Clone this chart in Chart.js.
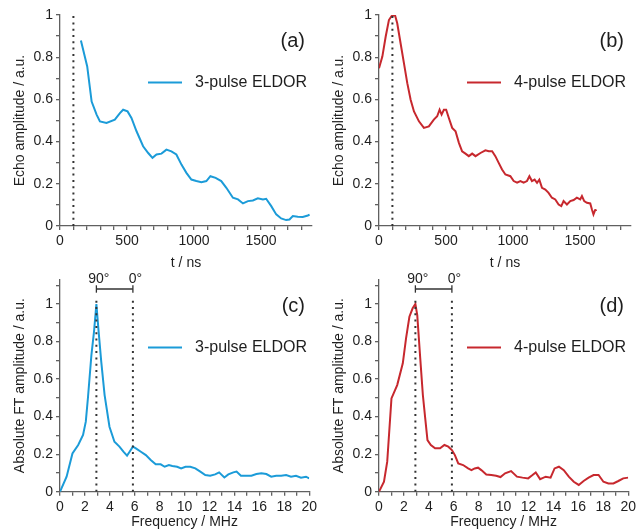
<!DOCTYPE html>
<html><head><meta charset="utf-8">
<script src="https://cdn.jsdelivr.net/npm/chart.js@4/dist/chart.umd.min.js"></script>
<style>
html,body{margin:0;padding:0;background:#fff;}
#wrap{position:relative;width:639px;height:531px;overflow:hidden;background:#fff;}
canvas{position:absolute;}
</style></head><body>
<div id="wrap">
<canvas id="ca" width="320" height="280" style="left:0;top:0"></canvas>
<canvas id="cb" width="320" height="280" style="left:319px;top:0"></canvas>
<canvas id="cc" width="320" height="266" style="left:0;top:265px"></canvas>
<canvas id="cd" width="320" height="266" style="left:319px;top:265px"></canvas>
</div>
<script>
// ---- data ----
const timeA = [156,203,236,273,298,347,409,447,471,504,533,571,620,658,690,720,757,794,831,868,906,943,980,1017,1055,1092,1122,1161,1203,1241,1290,1328,1365,1402,1439,1476,1514,1538,1576,1613,1650,1687,1712,1737,1774,1811,1849,1862];
const echoA = [0.879,0.756,0.590,0.528,0.496,0.488,0.504,0.535,0.551,0.543,0.512,0.449,0.378,0.346,0.323,0.339,0.343,0.362,0.354,0.339,0.291,0.252,0.220,0.213,0.208,0.213,0.236,0.228,0.213,0.181,0.134,0.126,0.107,0.118,0.121,0.131,0.126,0.129,0.094,0.055,0.036,0.028,0.031,0.047,0.044,0.043,0.050,0.054];

const timeB = [0,25,50,74,94,119,136,161,186,211,236,261,298,335,372,409,434,452,467,484,501,521,546,571,596,620,645,670,695,720,757,794,819,844,868,893,918,943,980,1005,1030,1055,1079,1104,1122,1141,1161,1179,1196,1216,1241,1265,1290,1315,1340,1360,1377,1402,1427,1452,1476,1501,1514,1531,1551,1576,1588,1600,1613,1618];
const echoB = [0.748,0.803,0.898,0.976,0.995,1.000,0.961,0.866,0.772,0.677,0.598,0.543,0.496,0.465,0.472,0.504,0.520,0.551,0.528,0.551,0.551,0.512,0.465,0.449,0.394,0.354,0.343,0.331,0.343,0.331,0.346,0.359,0.354,0.354,0.331,0.299,0.268,0.244,0.236,0.213,0.205,0.213,0.205,0.213,0.236,0.213,0.220,0.205,0.220,0.181,0.173,0.157,0.134,0.126,0.102,0.094,0.118,0.102,0.118,0.123,0.134,0.126,0.142,0.118,0.110,0.107,0.079,0.055,0.076,0.078];

const freqC = [0,0.53,1.0,1.46,1.85,2.07,2.25,2.52,2.73,2.92,3.1,3.31,3.58,3.97,4.37,4.77,5.09,5.38,5.56,5.85,6.09,6.49,6.89,7.28,7.68,8.08,8.40,8.74,9.01,9.40,9.72,10.07,10.46,10.86,11.26,11.66,12.05,12.45,12.77,13.19,13.51,13.91,14.17,14.52,14.97,15.36,15.76,16.16,16.56,16.95,17.35,17.75,18.15,18.54,18.94,19.34,19.74,20];
const ftC = [0,0.080,0.204,0.249,0.302,0.373,0.506,0.728,0.853,1.000,0.853,0.693,0.515,0.346,0.266,0.240,0.213,0.192,0.210,0.240,0.231,0.213,0.195,0.169,0.146,0.146,0.133,0.142,0.137,0.133,0.124,0.133,0.133,0.124,0.107,0.089,0.085,0.092,0.103,0.076,0.092,0.103,0.107,0.085,0.085,0.085,0.094,0.098,0.094,0.080,0.085,0.085,0.089,0.080,0.085,0.075,0.080,0.071];

const freqD = [0,0.40,0.66,1.0,1.46,1.91,2.17,2.44,2.70,2.92,3.07,3.31,3.52,3.71,3.89,4.16,4.50,4.90,5.25,5.56,5.85,6.09,6.36,6.75,7.15,7.42,7.68,7.95,8.21,8.61,9.01,9.40,9.75,10.12,10.60,11.07,11.52,11.97,12.32,12.58,12.93,13.38,13.77,14.09,14.44,14.83,15.23,15.63,16.03,16.42,16.82,17.22,17.62,18.01,18.41,18.81,19.21,19.60,20.0];
const ftD = [0,0.053,0.160,0.497,0.568,0.684,0.817,0.932,0.977,1.000,0.941,0.710,0.515,0.391,0.275,0.249,0.231,0.231,0.249,0.240,0.222,0.195,0.151,0.142,0.124,0.115,0.124,0.128,0.115,0.092,0.089,0.085,0.078,0.098,0.110,0.080,0.075,0.071,0.089,0.103,0.067,0.080,0.075,0.124,0.133,0.115,0.080,0.053,0.036,0.057,0.075,0.089,0.089,0.053,0.044,0.044,0.057,0.071,0.075];

const timeTickLabels = [0, 500, 1000, 1500];
const ampTickLabels = [0, 0.2, 0.4, 0.6, 0.8, 1];
const freqTickLabels = [0, 2, 4, 6, 8, 10, 12, 14, 16, 18, 20];
const pumpTime = 100;          // ns, dotted marker in (a),(b)
const freq90 = 2.92;           // MHz, 90° marker
const freq0 = 5.85;            // MHz, 0° marker
const bracketLevel = 1.08;

// ---- style ----
const FONT = "'Liberation Sans', Arial, Helvetica, sans-serif";
const AXIS = '#606060';
const TXT = '#1e1e1e';
const BLUE = '#1b9bd8';
const RED = '#c7282e';

function labelFrom(list){
  return v => { const m = list.find(l => Math.abs(l - v) < 1e-6); return m === undefined ? '' : String(m); };
}

const annot = {
  id: 'annot',
  afterDraw(chart) {
    const o = chart.options.plugins.annot;
    const {ctx, scales:{x, y}} = chart;
    ctx.save();
    ctx.fillStyle = TXT;
    ctx.font = `20px ${FONT}`;
    ctx.textAlign = 'right'; ctx.textBaseline = 'alphabetic';
    ctx.fillText(o.label, 305, 46.5);
    // legend
    ctx.strokeStyle = o.color; ctx.lineWidth = 2;
    ctx.beginPath(); ctx.moveTo(148, 82.5); ctx.lineTo(182, 82.5); ctx.stroke();
    ctx.font = `16px ${FONT}`;
    ctx.textAlign = 'left'; ctx.textBaseline = 'middle';
    ctx.fillText(o.legend, 195, 83);
    if (o.bracket) {
      ctx.strokeStyle = '#333'; ctx.lineWidth = 1.3;
      const by = y.getPixelForValue(bracketLevel);
      [freq90, freq0].forEach(f => {
        const px = x.getPixelForValue(f);
        ctx.beginPath(); ctx.moveTo(px, by - 3.7); ctx.lineTo(px, by + 3.7); ctx.stroke();
      });
      ctx.font = `14px ${FONT}`;
      ctx.textAlign = 'center'; ctx.textBaseline = 'alphabetic';
      ctx.fillText('90°', x.getPixelForValue(freq90) + 2.5, 17.5);
      ctx.fillText('0°', x.getPixelForValue(freq0) + 2.5, 17.5);
    }
    ctx.restore();
  }
};

function build(id, o) {
  const datasets = [
    {data: o.xs.map((v, i) => ({x: v, y: o.ys[i]})), borderColor: o.color, borderWidth: 2,
     pointRadius: 0, tension: 0, fill: false, order: 2}
  ];
  o.markers.forEach(m => datasets.push({data: [{x: m, y: 0}, {x: m, y: o.markerTop}],
    borderColor: '#333', borderWidth: 2, borderDash: [2, 4.3], pointRadius: 0, order: 1}));
  if (o.bracket) datasets.push({data: [{x: freq90, y: bracketLevel}, {x: freq0, y: bracketLevel}],
    borderColor: '#333', borderWidth: 1.3, pointRadius: 0, order: 1});
  const tickFont = {family: FONT, size: 14};
  new Chart(document.getElementById(id), {
    type: 'line',
    data: {datasets},
    options: {
      responsive: false, animation: false, devicePixelRatio: 1,
      layout: {padding: {left: 0, right: 8, top: o.padTop, bottom: 0}},
      plugins: {legend: {display: false}, tooltip: {enabled: false},
        annot: {label: o.label, legend: o.legend, color: o.color, bracket: o.bracket}},
      scales: {
        x: {type: 'linear', min: 0, max: o.xMax,
          afterFit: s => { s.height = o.xHeight; },
          border: {display: true, color: AXIS, width: 1.3},
          grid: {display: true, drawOnChartArea: false, drawTicks: true, tickLength: 4, color: AXIS, lineWidth: 1.3},
          ticks: {stepSize: o.xStep, includeBounds: false, autoSkip: false, maxRotation: 0, minRotation: 0,
            padding: 3, color: TXT, font: tickFont, callback: labelFrom(o.xLabels)},
          title: {display: true, text: o.xTitle, color: TXT, font: tickFont, padding: {top: 0, bottom: o.xTitlePad}}
        },
        y: {type: 'linear', min: 0, max: o.yMax,
          afterFit: s => { s.width = 60; },
          border: {display: true, color: AXIS, width: 1.3},
          grid: {display: true, drawOnChartArea: false, drawTicks: true, tickLength: 4, color: AXIS, lineWidth: 1.3},
          ticks: {stepSize: 0.1, includeBounds: false, autoSkip: false, padding: 3, color: TXT, font: tickFont,
            callback: labelFrom(ampTickLabels)},
          title: {display: true, text: o.yTitle, color: TXT, font: tickFont, padding: {top: 11.8, bottom: 0}}
        }
      }
    },
    plugins: [annot]
  });
}

build('ca', {xs: timeA, ys: echoA, color: BLUE, label: '(a)', legend: '3-pulse ELDOR',
  markers: [pumpTime], markerTop: 1, bracket: false, padTop: 15, xHeight: 54, xTitlePad: 8.5,
  xMax: 1880, xStep: 100, xLabels: timeTickLabels, yMax: 1,
  xTitle: 't / ns', yTitle: 'Echo amplitude / a.u.'});
build('cb', {xs: timeB, ys: echoB, color: RED, label: '(b)', legend: '4-pulse ELDOR',
  markers: [pumpTime], markerTop: 1, bracket: false, padTop: 15, xHeight: 54, xTitlePad: 8.5,
  xMax: 1880, xStep: 100, xLabels: timeTickLabels, yMax: 1,
  xTitle: 't / ns', yTitle: 'Echo amplitude / a.u.'});
build('cc', {xs: freqC, ys: ftC, color: BLUE, label: '(c)', legend: '3-pulse ELDOR',
  markers: [freq90, freq0], markerTop: 1.03, bracket: true, padTop: 14.6, xHeight: 39.3, xTitlePad: 0,
  xMax: 20, xStep: 1, xLabels: freqTickLabels, yMax: 1.13,
  xTitle: 'Frequency / MHz', yTitle: 'Absolute FT amplitude / a.u.'});
build('cd', {xs: freqD, ys: ftD, color: RED, label: '(d)', legend: '4-pulse ELDOR',
  markers: [freq90, freq0], markerTop: 1.03, bracket: true, padTop: 14.6, xHeight: 39.3, xTitlePad: 0,
  xMax: 20, xStep: 1, xLabels: freqTickLabels, yMax: 1.13,
  xTitle: 'Frequency / MHz', yTitle: 'Absolute FT amplitude / a.u.'});
</script>
</body></html>
